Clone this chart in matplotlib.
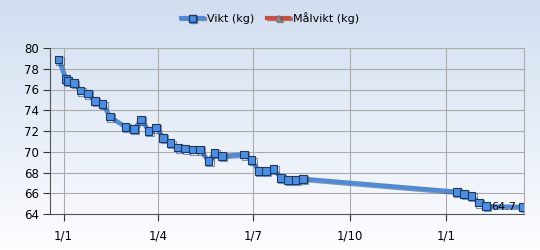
import datetime as dt
import numpy as np
import matplotlib
matplotlib.use('Agg')
import matplotlib.pyplot as plt
import matplotlib.dates as mdates
import matplotlib.patheffects as pe

# weigh-in days, counted from 1 Jan 2013
day_offsets = [-5, 2, 4, 10, 16, 23, 30, 37, 44, 59, 67, 74, 81, 88, 95, 102,
               109, 116, 123, 130, 138, 144, 151, 172, 179, 186, 193, 200, 207,
               214, 221, 228, 375, 382, 389, 396, 403, 438]
weights = [78.9, 77.0, 76.8, 76.6, 75.9, 75.6, 74.9, 74.6, 73.4, 72.4, 72.2,
           73.1, 72.0, 72.35, 71.35, 70.85, 70.4, 70.3, 70.2, 70.2, 69.1, 69.9,
           69.6, 69.75, 69.2, 68.15, 68.15, 68.35, 67.5, 67.3, 67.3, 67.4,
           66.15, 65.95, 65.75, 65.1, 64.75, 64.7]
y_ticks = [64, 66, 68, 70, 72, 74, 76, 78, 80]
x_tick_dates = ['2013-01-01', '2013-04-01', '2013-07-01', '2013-10-01', '2014-01-01']
series_names = ['Vikt (kg)', 'Målvikt (kg)']

start = dt.date(2013, 1, 1)
dates = [start + dt.timedelta(days=d) for d in day_offsets]

fig = plt.figure(figsize=(5.4, 2.5), dpi=100)

# background gradient over the whole figure
bg = fig.add_axes([0, 0, 1, 1], zorder=-10)
grad = np.linspace(0, 1, 256).reshape(-1, 1)
top = np.array([0.82, 0.87, 0.94])
bottom = np.array([0.99, 0.993, 1.0])
img = top + (bottom - top) * grad[..., None]
bg.imshow(img, aspect='auto', extent=[0, 1, 0, 1])
bg.axis('off')

W, H = 540, 250
ax = fig.add_axes([50 / W, 1 - 214 / H, (524 - 50) / W, (214 - 48) / H])
ax.patch.set_alpha(0)

shadow = [pe.SimpleLineShadow(offset=(1, -1), shadow_color='#333333', alpha=0.5), pe.Normal()]
ax.plot(dates, weights, color='#4a8be0', lw=3, marker='s', ms=5.5,
        mfc='#4a8fe6', mec='#1b3a66', mew=0.8, solid_joinstyle='round',
        path_effects=shadow, zorder=3)
# legend entries
l1, = ax.plot([], [], color='#4a8be0', lw=3, marker='s', ms=5, mfc='#4a8fe6', mec='#1b3a66',
              path_effects=shadow)
l2, = ax.plot([], [], color='#d9493a', lw=3, marker='^', ms=4, mfc='#999999', mec='#777777',
              path_effects=shadow)
fig.legend([l1, l2], series_names, loc='center', bbox_to_anchor=(0.5, 1 - 18 / H),
           ncol=2, frameon=False, fontsize=8, handlelength=2.0, columnspacing=1.2,
           handletextpad=0.3)

ax.annotate(f'{weights[-1]:.1f}', (dates[-1], weights[-1]), xytext=(-14, 0),
            textcoords='offset points', fontsize=8, va='center', ha='center', zorder=4)

ax.set_ylim(64, 80)
ax.set_yticks(y_ticks)
ax.set_xlim(start + dt.timedelta(days=-12.7), start + dt.timedelta(days=439))
ax.set_xticks([dt.date.fromisoformat(s) for s in x_tick_dates])
ax.xaxis.set_major_formatter(mdates.DateFormatter('%-d/%-m'))

ax.grid(True, color='#ababab', lw=0.8)
ax.set_axisbelow(True)
for side in ['left', 'bottom']:
    ax.spines[side].set_color('#555555')
ax.spines['top'].set_visible(False)
ax.spines['right'].set_color('#ababab')
ax.tick_params(axis='both', labelsize=8.5, length=5, color='#333333', pad=3)
ax.tick_params(axis='x', pad=6)

fig.savefig('out.png', dpi=100)
